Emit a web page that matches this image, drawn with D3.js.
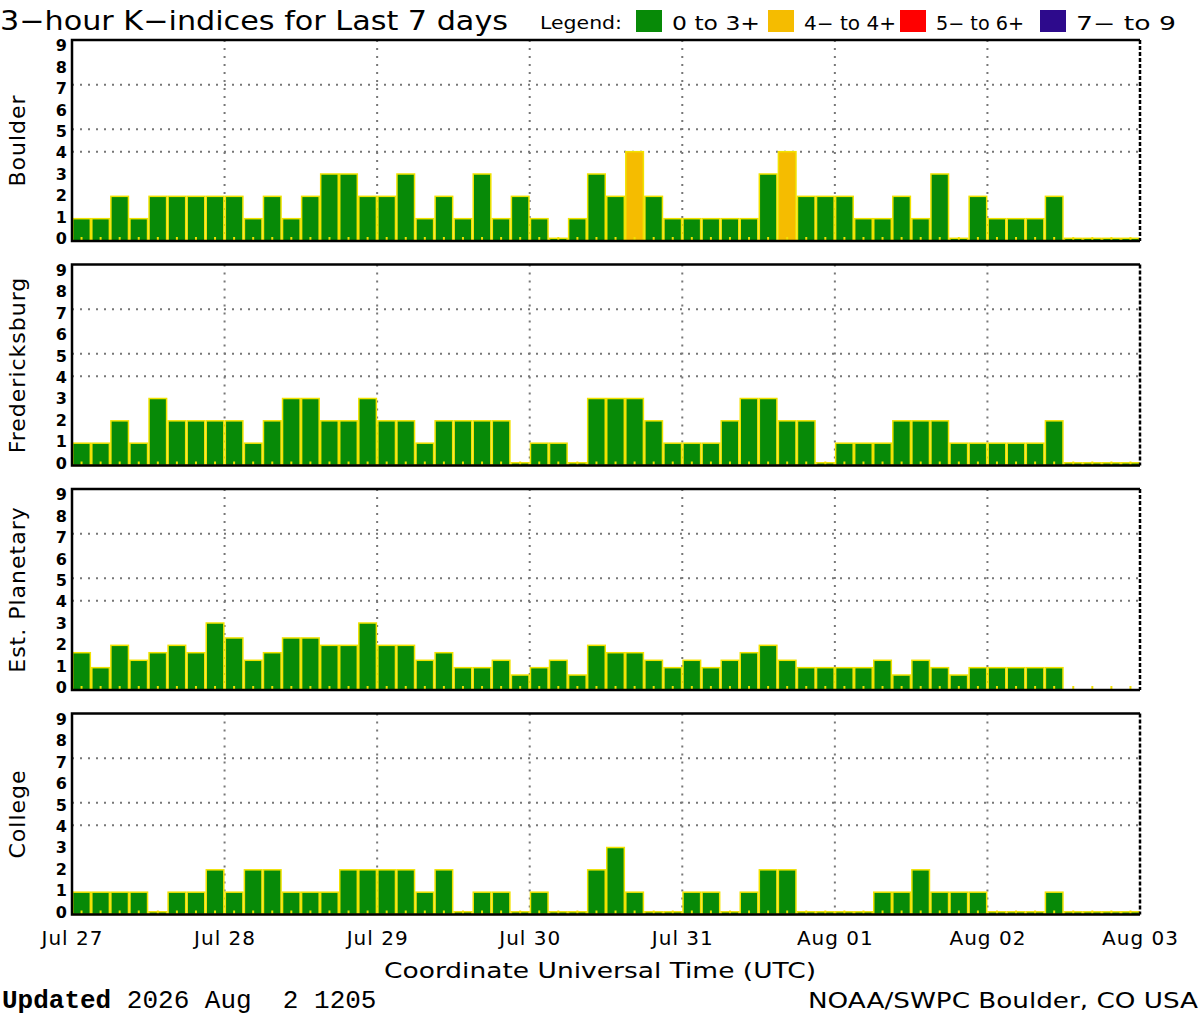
<!DOCTYPE html>
<html>
<head>
<meta charset="utf-8">
<script src="https://cdn.jsdelivr.net/npm/d3@7"></script>
<style>
  body { margin: 0; background: #fff; }
  text { font-family: "DejaVu Sans", sans-serif; fill: #000; }
</style>
</head>
<body>
<div id="chart"></div>
<script>
// stations (panels), top to bottom
var stations = ['Boulder', 'Fredericksburg', 'Est. Planetary', 'College'];

// 3-hour K values, 8 per day, Jul 27 .. Aug 02 (null = no data yet)
var boulder = [
    1, 1, 2, 1, 2, 2, 2, 2,
    2, 1, 2, 1, 2, 3, 3, 2,
    2, 3, 1, 2, 1, 3, 1, 2,
    1, 0, 1, 3, 2, 4, 2, 1,
    1, 1, 1, 1, 3, 4, 2, 2,
    2, 1, 1, 2, 1, 3, 0, 2,
    1, 1, 1, 2, 0, 0, 0, 0
];
var fredericksburg = [
    1, 1, 2, 1, 3, 2, 2, 2,
    2, 1, 2, 3, 3, 2, 2, 3,
    2, 2, 1, 2, 2, 2, 2, 0,
    1, 1, 0, 3, 3, 3, 2, 1,
    1, 1, 2, 3, 3, 2, 2, 0,
    1, 1, 1, 2, 2, 2, 1, 1,
    1, 1, 1, 2, 0, 0, 0, 0
];
var planetary = [
    1.67, 1, 2, 1.33, 1.67, 2, 1.67, 3,
    2.33, 1.33, 1.67, 2.33, 2.33, 2, 2, 3,
    2, 2, 1.33, 1.67, 1, 1, 1.33, 0.67,
    1, 1.33, 0.67, 2, 1.67, 1.67, 1.33, 1,
    1.33, 1, 1.33, 1.67, 2, 1.33, 1, 1,
    1, 1, 1.33, 0.67, 1.33, 1, 0.67, 1,
    1, 1, 1, 1, null, null, null, null
];
var college = [
    1, 1, 1, 1, 0, 1, 1, 2,
    1, 2, 2, 1, 1, 1, 2, 2,
    2, 2, 1, 2, 0, 1, 1, 0,
    1, 0, 0, 2, 3, 1, 0, 0,
    1, 1, 0, 1, 2, 2, 0, 0,
    0, 0, 1, 1, 2, 1, 1, 1,
    0, 0, 0, 1, 0, 0, 0, 0
];
var series = [boulder, fredericksburg, planetary, college];

var dayLabels = ['Jul 27', 'Jul 28', 'Jul 29', 'Jul 30', 'Jul 31', 'Aug 01', 'Aug 02', 'Aug 03'];
var kTicks = [0, 1, 2, 3, 4, 5, 6, 7, 8, 9];
var gridLevels = [4, 5, 7];

var legendLabels = ['0 to 3+', '4\u2212 to 4+', '5\u2212 to 6+', '7\u2212 to 9'];
var legendColors = ['#078a07', '#f5bc00', '#ff0000', '#2d0a8c'];

var chart_width = 1200;
var chart_height = 1020;
var plot_left = 72;
var plot_right = 1140;
var panel_top = 40;
var panel_step = 224.5;
var panel_height = 201;
var slots = dayLabels.length * 8 - 8;

function barColor(k) {
    if (k >= 7) return legendColors[3];
    if (k >= 5) return legendColors[2];
    if (k >= 4) return legendColors[1];
    return legendColors[0];
}

var svg = d3.select('#chart')
    .append('svg')
    .attr('width', chart_width)
    .attr('height', chart_height);

var x_scale = d3.scaleLinear()
    .domain([0, slots])
    .range([plot_left, plot_right]);

var slot_w = x_scale(1) - x_scale(0);

// title + legend
svg.append('text')
    .attr('x', 0)
    .attr('y', 30)
    .style('font-size', '26px')
    .attr('textLength', 508)
    .attr('lengthAdjust', 'spacingAndGlyphs')
    .text('3\u2212hour K\u2212indices for Last 7 days');

svg.append('text')
    .attr('x', 540)
    .attr('y', 29)
    .style('font-size', '17px')
    .attr('textLength', 82)
    .attr('lengthAdjust', 'spacingAndGlyphs')
    .text('Legend:');

var legendX = [636, 768, 900, 1040];
var legendTextW = [88, 92, 88, 100];
legendLabels.forEach(function (lab, i) {
    svg.append('rect')
        .attr('x', legendX[i])
        .attr('y', 10)
        .attr('width', 26)
        .attr('height', 22)
        .attr('fill', legendColors[i]);
    svg.append('text')
        .attr('x', legendX[i] + 36)
        .attr('y', 30)
        .style('font-size', '19px')
        .attr('textLength', legendTextW[i])
        .attr('lengthAdjust', 'spacingAndGlyphs')
        .text(lab);
});

// panels
stations.forEach(function (name, p) {
    var top = panel_top + p * panel_step;
    var bottom = top + panel_height;
    var data = series[p];

    var y_scale = d3.scaleLinear()
        .domain([0, 9])
        .range([bottom, top]);

    // labels sit a little inside the frame, like the original plot
    var label_scale = d3.scaleLinear()
        .domain([0, 9])
        .range([bottom - 3, top + 5]);

    var g = svg.append('g');

    // dotted grid
    g.selectAll('line.hgrid')
        .data(gridLevels)
        .enter()
        .append('line')
        .attr('x1', plot_left)
        .attr('x2', plot_right)
        .attr('y1', function (d) { return y_scale(d); })
        .attr('y2', function (d) { return y_scale(d); })
        .attr('stroke', '#777')
        .attr('stroke-width', 2)
        .attr('stroke-dasharray', '2,6');

    g.selectAll('line.vgrid')
        .data(d3.range(8, slots, 8))
        .enter()
        .append('line')
        .attr('x1', function (d) { return x_scale(d); })
        .attr('x2', function (d) { return x_scale(d); })
        .attr('y1', top)
        .attr('y2', bottom)
        .attr('stroke', '#777')
        .attr('stroke-width', 2)
        .attr('stroke-dasharray', '2,6');

    // bars
    var bars = data.map(function (v, i) { return { i: i, v: v }; })
        .filter(function (d) { return d.v !== null; });

    g.selectAll('rect.bar')
        .data(bars)
        .enter()
        .append('rect')
        .attr('x', function (d) { return x_scale(d.i) + 0.75; })
        .attr('width', slot_w - 1.5)
        .attr('y', function (d) { return y_scale(Math.max(d.v, 0.12)); })
        .attr('height', function (d) { return bottom - y_scale(Math.max(d.v, 0.12)); })
        .attr('fill', function (d) { return barColor(d.v); })
        .attr('stroke', '#f2e200')
        .attr('stroke-width', 1.5);

    // small ticks at slot centres
    g.selectAll('line.tick3h')
        .data(d3.range(0, slots))
        .enter()
        .append('line')
        .attr('x1', function (d) { return x_scale(d + 0.5); })
        .attr('x2', function (d) { return x_scale(d + 0.5); })
        .attr('y1', bottom)
        .attr('y2', bottom - 4)
        .attr('stroke', '#f2e200')
        .attr('stroke-width', 2);

    // frame
    g.append('path')
        .attr('d', 'M' + plot_right + ',' + top + 'H' + plot_left + 'V' + bottom + 'H' + plot_right)
        .attr('fill', 'none')
        .attr('stroke', '#000')
        .attr('stroke-width', 2.5);
    g.append('line')
        .attr('x1', plot_right)
        .attr('x2', plot_right)
        .attr('y1', top)
        .attr('y2', bottom)
        .attr('stroke', '#000')
        .attr('stroke-width', 2.5)
        .attr('stroke-dasharray', '4,2');

    // y axis numbers
    var yAxis = d3.axisLeft(label_scale)
        .tickValues(kTicks)
        .tickSize(0)
        .tickPadding(5);
    var ya = g.append('g')
        .attr('transform', 'translate(' + plot_left + ',0)')
        .call(yAxis);
    ya.select('.domain').remove();
    ya.selectAll('text')
        .style('font-family', '"DejaVu Sans", sans-serif')
        .style('font-size', '16px')
        .style('font-weight', 'bold')
        .attr('dy', '0.36em');

    // station label
    g.append('text')
        .attr('transform', 'translate(25,' + (top + bottom) / 2 + ') rotate(-90)')
        .attr('text-anchor', 'middle')
        .style('font-size', '22px')
        .style('letter-spacing', '1px')
        .text(name);

    // day labels under last panel
    if (p === stations.length - 1) {
        var xAxis = d3.axisBottom(x_scale)
            .tickValues(d3.range(0, slots + 1, 8))
            .tickFormat(function (d, i) { return dayLabels[i]; })
            .tickSize(0)
            .tickPadding(16);
        var xa = g.append('g')
            .attr('transform', 'translate(0,' + bottom + ')')
            .call(xAxis);
        xa.select('.domain').remove();
        xa.selectAll('text')
            .style('font-family', '"DejaVu Sans", sans-serif')
            .style('font-size', '20px')
            .style('letter-spacing', '1px');
    }
});

svg.append('text')
    .attr('x', 600)
    .attr('y', 978)
    .attr('text-anchor', 'middle')
    .style('font-size', '22px')
    .attr('textLength', 432)
    .attr('lengthAdjust', 'spacingAndGlyphs')
    .text('Coordinate Universal Time (UTC)');

var upd = svg.append('text')
    .attr('x', 2)
    .attr('y', 1008)
    .style('font-size', '26px');
upd.append('tspan')
    .style('font-family', '"Liberation Mono", monospace')
    .style('font-weight', 'bold')
    .text('Updated');
upd.append('tspan')
    .style('font-family', '"Liberation Mono", monospace')
    .attr('xml:space', 'preserve')
    .text(' 2026 Aug  2 1205');

svg.append('text')
    .attr('x', 1198)
    .attr('y', 1008)
    .attr('text-anchor', 'end')
    .style('font-size', '22px')
    .attr('textLength', 390)
    .attr('lengthAdjust', 'spacingAndGlyphs')
    .text('NOAA/SWPC Boulder, CO USA');
</script>
</body>
</html>
